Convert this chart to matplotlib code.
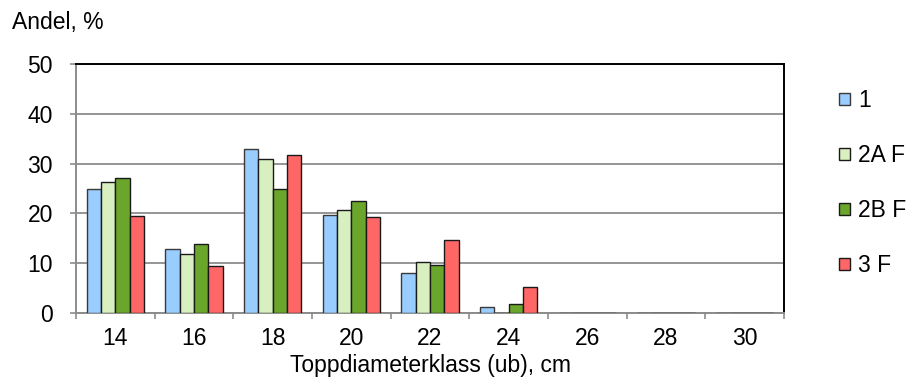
import numpy as np
import matplotlib
matplotlib.use("Agg")
import matplotlib.pyplot as plt

plt.rcParams['font.family'] = ['Liberation Sans', 'DejaVu Sans']

categories = ["14", "16", "18", "20", "22", "24", "26", "28", "30"]
series_names = ["1", "2A F", "2B F", "3 F"]
s1 = [25.0, 12.9, 32.9, 19.6, 8.0, 1.3, 0, 0, 0]
s2a = [26.4, 11.8, 30.9, 20.6, 10.2, 0, 0, 0, 0]
s2b = [27.1, 13.8, 24.9, 22.4, 9.6, 1.9, 0, 0, 0]
s3 = [19.5, 9.4, 31.7, 19.3, 14.7, 5.2, 0, 0, 0]
series_values = [s1, s2a, s2b, s3]
colors = ["#99ccff", "#d8efc0", "#6aa62c", "#ff6666"]
edge_colors = ["#3a3a3a", "#1a1a1a", "#1a1a1a", "#1a1a1a"]

FS = 16.5

fig = plt.figure(figsize=(9.11, 3.83), dpi=100)
ax = fig.add_axes([76 / 911, 70 / 383, 708 / 911, 249 / 383])

x = np.arange(len(categories))
bw = 0.182
offsets = (np.arange(4) - 1.5) * bw
handles = []
for i, vals in enumerate(series_values):
    h = ax.bar(x + offsets[i], vals, width=bw, color=colors[i],
               edgecolor=edge_colors[i], linewidth=1.0, zorder=3,
               label=series_names[i])
    handles.append(h)

ax.set_xlim(-0.5, len(categories) - 0.5)
ax.set_ylim(0, 50)
ax.set_yticks(np.arange(0, 51, 10))
ax.yaxis.grid(True, color="#8c8c8c", linewidth=1.3, zorder=0)
ax.set_axisbelow(True)

ax.set_xticks(x)
ax.set_xticklabels(categories, fontsize=FS)
ax.set_xticks(np.arange(-0.5, len(categories), 1.0), minor=True)
ax.tick_params(axis='x', which='major', length=0, pad=10)
ax.tick_params(axis='x', which='minor', length=4, width=1.2, color="#8c8c8c")
ax.tick_params(axis='y', length=4, width=1.2, color="#8c8c8c", labelsize=FS, pad=12.5)

for side in ("left", "bottom"):
    ax.spines[side].set_color("#8c8c8c")
    ax.spines[side].set_linewidth(1.4)
for side in ("top", "right"):
    ax.spines[side].set_color("#000000")
    ax.spines[side].set_linewidth(1.4)

ax.set_xlabel("Toppdiameterklass (ub), cm", fontsize=FS, labelpad=3)
fig.text(12 / 911, 1 - 23 / 383, "Andel, %", fontsize=FS, va="center", ha="left")

leg = fig.legend(handles=handles, labels=series_names, loc="upper left",
                 bbox_to_anchor=(839 / 911, 1 - 89 / 383), frameon=False,
                 fontsize=FS, handlelength=0.5, handleheight=0.39,
                 handletextpad=0.35, labelspacing=1.4, borderaxespad=0,
                 borderpad=0)

fig.savefig("out.png", dpi=100)
